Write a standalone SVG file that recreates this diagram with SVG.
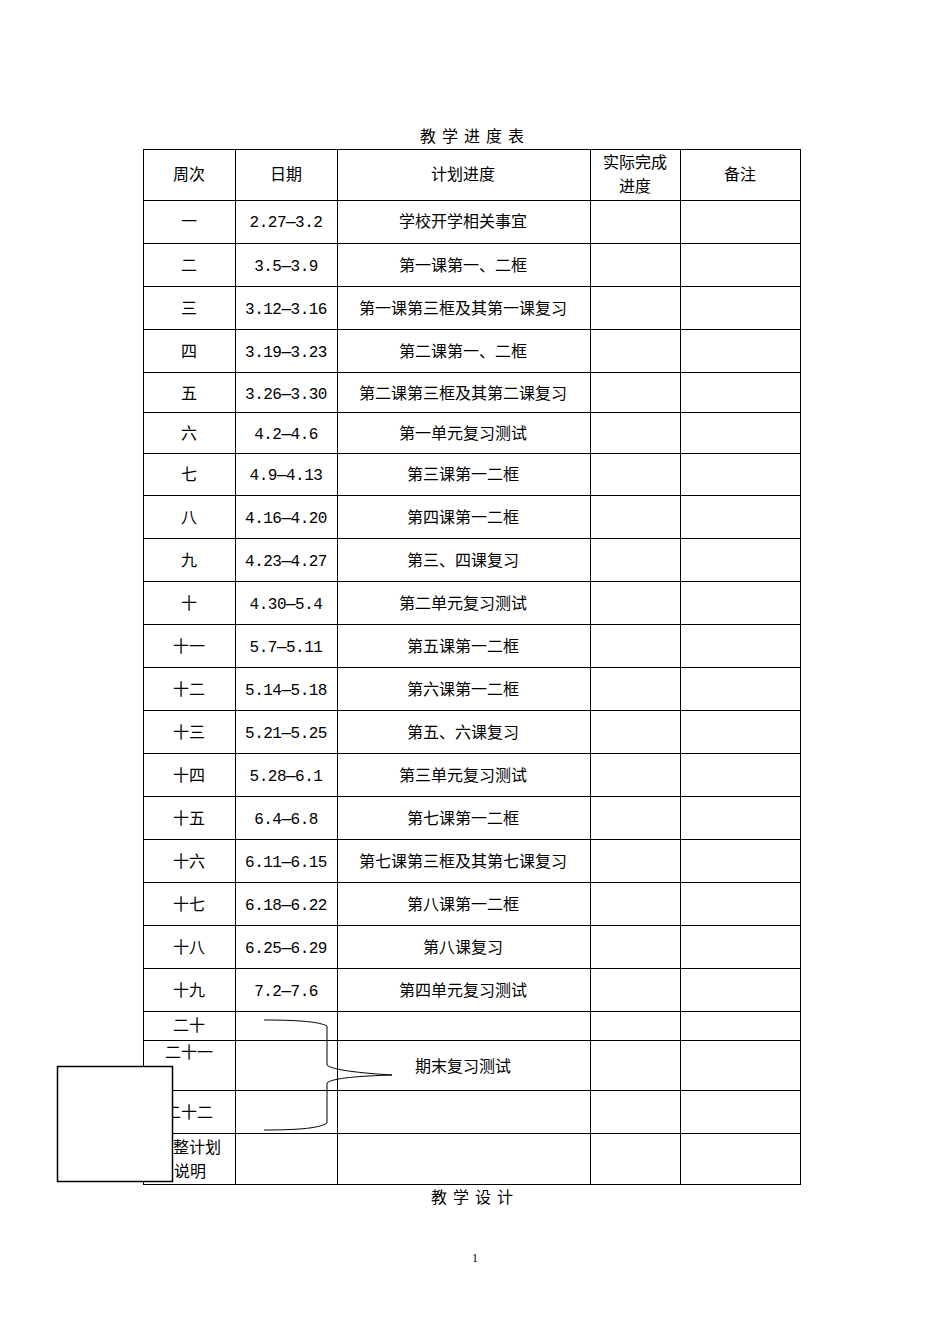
<svg xmlns="http://www.w3.org/2000/svg" width="950" height="1344" viewBox="0 0 950 1344">
<style>
.t{font-family:"Noto Sans CJK SC",sans-serif;font-size:16px;text-anchor:middle;fill:#000}
.d{font-family:"Liberation Mono","Noto Sans CJK SC",monospace;font-size:16px;text-anchor:middle;fill:#000;letter-spacing:-0.5px}
.g{stroke:#000;stroke-width:1;fill:none}
</style>
<rect width="950" height="1344" fill="#fff"/>
<text class="t" x="475" y="142" style="letter-spacing:6px">教学进度表</text>
<g id="grid" class="g">
<rect x="143.5" y="149.5" width="657" height="1035"/>
<path d="M235.5 149.5V1184.5M337.5 149.5V1184.5M590.5 149.5V1184.5M680.5 149.5V1184.5"/>
<path d="M143 200.5H800M143 243.5H800M143 286.5H800M143 329.5H800M143 372.5H800M143 412.5H800M143 453.5H800M143 495.5H800M143 538.5H800M143 581.5H800M143 624.5H800M143 667.5H800M143 710.5H800M143 753.5H800M143 796.5H800M143 839.5H800M143 882.5H800M143 925.5H800M143 968.5H800M143 1011.5H800M143 1040.5H800M143 1090.5H800M143 1133.5H800"/>
</g>
<g id="header">
<text class="t" x="189" y="180">周次</text>
<text class="t" x="286" y="180">日期</text>
<text class="t" x="463" y="180">计划进度</text>
<text class="t" x="635" y="168">实际完成</text>
<text class="t" x="635" y="192">进度</text>
<text class="t" x="740" y="180">备注</text>
</g>
<g id="rows">
<text class="t" x="189" y="227">一</text><text class="d" x="286" y="227">2.27—3.2</text><text class="t" x="463" y="227">学校开学相关事宜</text>
<text class="t" x="189" y="271">二</text><text class="d" x="286" y="271">3.5—3.9</text><text class="t" x="463" y="271">第一课第一、二框</text>
<text class="t" x="189" y="314">三</text><text class="d" x="286" y="314">3.12—3.16</text><text class="t" x="463" y="314">第一课第三框及其第一课复习</text>
<text class="t" x="189" y="357">四</text><text class="d" x="286" y="357">3.19—3.23</text><text class="t" x="463" y="357">第二课第一、二框</text>
<text class="t" x="189" y="399">五</text><text class="d" x="286" y="399">3.26—3.30</text><text class="t" x="463" y="399">第二课第三框及其第二课复习</text>
<text class="t" x="189" y="439">六</text><text class="d" x="286" y="439">4.2—4.6</text><text class="t" x="463" y="439">第一单元复习测试</text>
<text class="t" x="189" y="480">七</text><text class="d" x="286" y="480">4.9—4.13</text><text class="t" x="463" y="480">第三课第一二框</text>
<text class="t" x="189" y="523">八</text><text class="d" x="286" y="523">4.16—4.20</text><text class="t" x="463" y="523">第四课第一二框</text>
<text class="t" x="189" y="566">九</text><text class="d" x="286" y="566">4.23—4.27</text><text class="t" x="463" y="566">第三、四课复习</text>
<text class="t" x="189" y="609">十</text><text class="d" x="286" y="609">4.30—5.4</text><text class="t" x="463" y="609">第二单元复习测试</text>
<text class="t" x="189" y="652">十一</text><text class="d" x="286" y="652">5.7—5.11</text><text class="t" x="463" y="652">第五课第一二框</text>
<text class="t" x="189" y="695">十二</text><text class="d" x="286" y="695">5.14—5.18</text><text class="t" x="463" y="695">第六课第一二框</text>
<text class="t" x="189" y="738">十三</text><text class="d" x="286" y="738">5.21—5.25</text><text class="t" x="463" y="738">第五、六课复习</text>
<text class="t" x="189" y="781">十四</text><text class="d" x="286" y="781">5.28—6.1</text><text class="t" x="463" y="781">第三单元复习测试</text>
<text class="t" x="189" y="824">十五</text><text class="d" x="286" y="824">6.4—6.8</text><text class="t" x="463" y="824">第七课第一二框</text>
<text class="t" x="189" y="867">十六</text><text class="d" x="286" y="867">6.11—6.15</text><text class="t" x="463" y="867">第七课第三框及其第七课复习</text>
<text class="t" x="189" y="910">十七</text><text class="d" x="286" y="910">6.18—6.22</text><text class="t" x="463" y="910">第八课第一二框</text>
<text class="t" x="189" y="953">十八</text><text class="d" x="286" y="953">6.25—6.29</text><text class="t" x="463" y="953">第八课复习</text>
<text class="t" x="189" y="996">十九</text><text class="d" x="286" y="996">7.2—7.6</text><text class="t" x="463" y="996">第四单元复习测试</text>
<text class="t" x="189" y="1031">二十</text>
<text class="t" x="189" y="1058">二十一</text>
<text class="t" x="189" y="1118">二十二</text>
<text class="t" x="463" y="1072">期末复习测试</text>
<text class="t" x="197" y="1153">整计划</text>
<text class="t" x="190" y="1177">说明</text>
</g>
<g id="brace" class="g" stroke-width="1.5">
<path d="M264 1020 C300 1020 320 1022 327 1026 V1065 C332 1070 360 1073 392 1075 C360 1076 332 1078 327 1083 V1123 C320 1128 300 1130 264 1130"/>
</g>
<rect id="box" x="57.5" y="1066.5" width="115" height="115" fill="#fff" stroke="#000" stroke-width="1.5"/>
<text class="t" x="475" y="1203" style="letter-spacing:6px">教学设计</text>
<text x="475" y="1262" style="font-family:'Liberation Serif',serif;font-size:12px;text-anchor:middle">1</text>
</svg>
